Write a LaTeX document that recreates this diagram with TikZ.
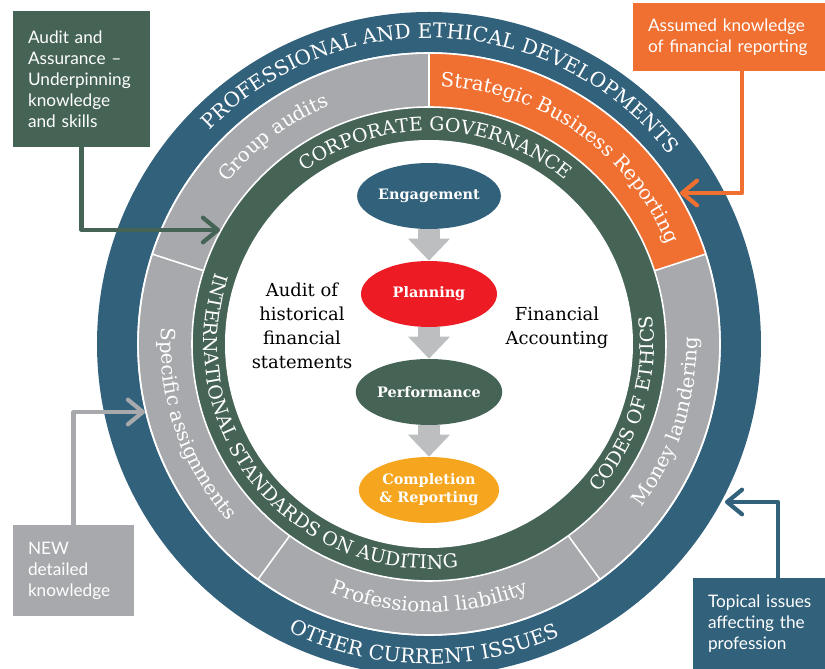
\documentclass[tikz,border=0pt]{standalone}
\usepackage{fontspec}
\setmainfont{DejaVu Serif}
\newfontfamily\boxfont{Lato}
\usetikzlibrary{arrows.meta,decorations.text,shapes.geometric}

\definecolor{accablue}{RGB}{50,97,124}
\definecolor{accagrey}{RGB}{167,169,172}
\definecolor{accagreen}{RGB}{69,100,86}
\definecolor{accaorange}{RGB}{240,112,50}
\definecolor{accared}{RGB}{237,28,36}
\definecolor{accayellow}{RGB}{246,166,30}
\definecolor{flowgrey}{RGB}{188,190,192}

\newcommand{\ringcaps}{\color{white}\fontsize{11.5}{12}\selectfont}
\newcommand{\ringinner}{\color{white}\fontsize{10.8}{12}\selectfont}
\newcommand{\ringmixed}{\color{white}\fontsize{11.2}{12}\selectfont}

\begin{document}
\begin{tikzpicture}[x=0.02cm, y=0.02cm]

  \tikzstyle{stage} = [ellipse, minimum width=2.72cm, minimum height=1.32cm, inner sep=0pt, text=white, font=\bfseries\fontsize{8.2}{10.2}\selectfont]
  \tikzstyle{flow} = [flowgrey, line width=0.44cm, -{Triangle[width=0.84cm, length=0.44cm, line width=0pt]}]
  \tikzstyle{infobox} = [rectangle, inner xsep=0.3cm, inner ysep=0pt, align=left, text=white, font=\boxfont\fontsize{9.8}{12}\selectfont]
  \tikzstyle{link} = [line width=2.4pt, line cap=round, line join=round, -{Straight Barb[length=8.5pt, width=14pt, round]}]
  \tikzstyle{sidetext} = [align=center, font=\fontsize{10.2}{13.6}\selectfont]

  \useasboundingbox (-429,-325) rectangle (396,344);
  \clip (-429,-325) rectangle (396,344);

  % rings
  \fill[accablue] (0,0) circle[radius=332];
  \filldraw[fill=accagrey, draw=white, line width=0.9pt] (0,0) circle[radius=291];
  \fill[accaorange] (18:237) arc[start angle=18, end angle=90, radius=237] -- (90:291) arc[start angle=90, end angle=18, radius=291] -- cycle;
  \filldraw[fill=accagreen, draw=white, line width=0.9pt] (0,0) circle[radius=237];
  \fill[white] (0,0) circle[radius=204];
  \draw[white, line width=0.9pt] (0,0) circle[radius=291];
  \foreach \a in {162,90,18,-54,-126}
    \draw[white, line width=0.9pt] (\a:237) -- (\a:291);

  % outer ring
  \path[decorate, decoration={text along path, text align=center, text={|\ringcaps|PROFESSIONAL AND ETHICAL DEVELOPMENTS}}]
    (167:306) arc[start angle=167, end angle=7, radius=306];
  \path[decorate, decoration={text along path, text align=center, text={|\ringcaps|OTHER CURRENT ISSUES}}]
    (-171:320) arc[start angle=-171, end angle=-11, radius=320];

  % grey ring
  \path[decorate, decoration={text along path, text align=center, text={|\ringmixed|Group audits}}]
    (187:258) arc[start angle=187, end angle=67, radius=258];
  \path[decorate, decoration={text along path, text align=center, text={|\ringmixed|Strategic Business Reporting}}]
    (130:258) arc[start angle=130, end angle=-20, radius=258];
  \path[decorate, decoration={text along path, text align=center, text={|\ringmixed|Money laundering}}]
    (-78:268) arc[start angle=-78, end angle=42, radius=268];
  \path[decorate, decoration={text along path, text align=center, text={|\ringmixed|Professional liability}}]
    (-150:268) arc[start angle=-150, end angle=-30, radius=268];
  \path[decorate, decoration={text along path, text align=center, text={|\ringmixed|Specific assignments}}]
    (139:268) arc[start angle=139, end angle=259, radius=268];

  % green ring
  \path[decorate, decoration={text along path, text align=center, text={|\ringinner|CORPORATE GOVERNANCE}}]
    (163:213) arc[start angle=163, end angle=13, radius=213];
  \path[decorate, decoration={text along path, text align=center, text={|\ringinner|INTERNATIONAL STANDARDS ON AUDITING}}]
    (139.5:225) arc[start angle=139.5, end angle=299.5, radius=225];
  \path[decorate, decoration={text along path, text align=center, text={|\ringinner|CODES OF ETHICS}}]
    (-87:225) arc[start angle=-87, end angle=53, radius=225];

  % audit stages
  \node[stage, fill=accablue] (eng) at (0,148) {Engagement};
  \node[stage, fill=accared] (plan) at (0,50) {Planning};
  \node[stage, fill=accagreen] (perf) at (0,-48) {Performance};
  \node[stage, fill=accayellow, align=center] (comp) at (0,-146) {Completion\\\& Reporting};

  \draw[flow] (eng.south) -- (plan.north);
  \draw[flow] (plan.south) -- (perf.north);
  \draw[flow] (perf.south) -- (comp.north);

  \node[sidetext] (audit) at (-127,18) {Audit of\\historical\\financial\\statements};
  \node[sidetext] (finacc) at (128,16) {Financial\\Accounting};

  % boxes round the outside
  \node[infobox, fill=accagreen, text width=2.14cm, minimum height=2.72cm] (aabox) at (-347.5,265) {Audit and\\Assurance –\\Underpinning\\knowledge\\and skills};
  \node[infobox, fill=accaorange, text width=3.76cm, minimum height=1.36cm] (sbrbox) at (313,307) {Assumed knowledge\\of financial reporting};
  \node[infobox, fill=accagrey, text width=1.82cm, minimum height=1.82cm] (newbox) at (-355.5,-226.5) {NEW\\detailed\\knowledge};
  \node[infobox, fill=accablue, text width=2.8cm, minimum height=1.84cm] (topbox) at (349,-280) {Topical issues\\affecting the\\profession};

  \coordinate (aatip) at (-209,114);
  \coordinate (sbrtip) at (251,151);
  \coordinate (newtip) at (-284,-68);
  \coordinate (toptip) at (296,-158);

  \draw[link, accagreen] (aabox.south) |- (aatip);
  \draw[link, accaorange] (sbrbox.south) |- (sbrtip);
  \draw[link, accagrey] (newbox.north) |- (newtip);
  \draw[link, accablue] (topbox.north) |- (toptip);

\end{tikzpicture}
\end{document}
